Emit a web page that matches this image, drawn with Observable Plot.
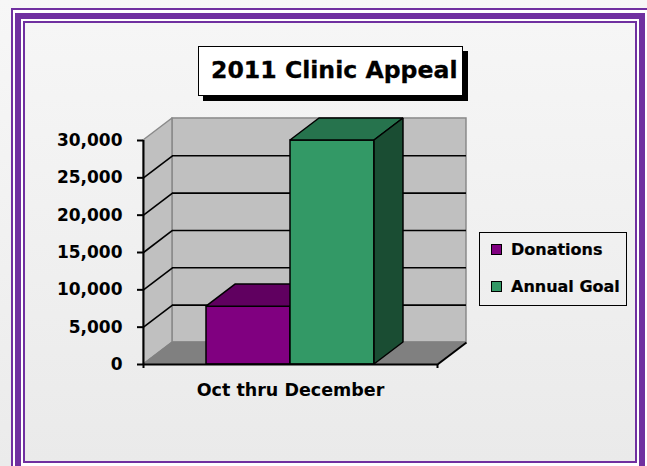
<!DOCTYPE html>
<html>
<head>
<meta charset="utf-8">
<script src="https://cdn.jsdelivr.net/npm/d3@7"></script>
<script src="https://cdn.jsdelivr.net/npm/@observablehq/plot@0.6"></script>
<style>
  html, body { margin: 0; padding: 0; width: 647px; height: 466px; overflow: hidden; }
  body { background: linear-gradient(#f7f7f7, #ebebeb); position: relative; font-family: "DejaVu Sans", sans-serif; }
  .frame { position: absolute; box-sizing: border-box; }
  #f1 { left: 11px; top: 8px; width: 640px; height: 475px; border: 2px solid #7030a0; background: #fff; }
  #f2 { left: 15px; top: 13px; width: 630px; height: 462px; border: 6px solid #7030a0; background: #fff; }
  #f3 { left: 23px; top: 21px; width: 614px; height: 442px; border: 2px solid #7030a0; background: linear-gradient(#f6f6f6, #eaeaea); }
  #chart { position: absolute; left: 0; top: 0; }
  #title { position: absolute; left: 198px; top: 46px; width: 265px; height: 50px; box-sizing: border-box;
    border: 1.5px solid #000; background: #fff; box-shadow: 5px 5px 0 #000;
    font: bold 23.6px "DejaVu Sans", sans-serif; line-height: 46px; padding-left: 12px; white-space: nowrap; color: #000;
    -webkit-text-stroke: 0.3px #000; }
  #legend { position: absolute; left: 479px; top: 232px; width: 148px; height: 74px; box-sizing: border-box;
    border: 1.5px solid #000; font: bold 16px "DejaVu Sans", sans-serif; color: #000; -webkit-text-stroke: 0.2px #000; }
  .item { position: absolute; left: 11px; height: 20px; line-height: 20px; white-space: nowrap; }
  .sw { display: inline-block; width: 9px; height: 9px; border: 1px solid #000; margin-right: 9px; vertical-align: 0px; }
</style>
</head>
<body>
<div class="frame" id="f1"></div>
<div class="frame" id="f2"></div>
<div class="frame" id="f3"></div>
<div id="chart"></div>
<div id="title"></div>
<div id="legend"></div>
<script>
// ---- data ----
const title = "2011 Clinic Appeal";
const categories = ["Oct thru December"];
const series = ["Donations", "Annual Goal"];
const values = [7750, 30000];
const yTicks = [0, 5000, 10000, 15000, 20000, 25000, 30000];
const frontColors = ["#800080", "#339966"];
const topColors = ["#600060", "#26734d"];
const sideColors = ["#400040", "#1a4d33"];

// ---- layout constants (3D depth in data units) ----
const X_MAX = 3.5;      // floor width in band steps
const DX = 0.345;       // depth offset along x (band steps)
const DY = 2950;        // depth offset along y (value units)
const Y_MAX = 30000;
const FONT = "DejaVu Sans, sans-serif";

document.getElementById("title").textContent = title;
const legend = document.getElementById("legend");
series.forEach((s, i) => {
  const it = document.createElement("div");
  it.className = "item";
  it.style.top = (7 + i * 37) + "px";
  const sw = document.createElement("span");
  sw.className = "sw";
  sw.style.background = frontColors[i];
  it.appendChild(sw);
  it.appendChild(document.createTextNode(s));
  legend.appendChild(it);
});

const band = d3.scaleBand().domain(series).range([0, X_MAX]).paddingInner(0).paddingOuter(0.75);
const bars = series.map((s, i) => ({
  s, v: values[i], x1: band(s), x2: band(s) + band.bandwidth(),
  front: frontColors[i], top: topColors[i], side: sideColors[i]
}));
const innerTicks = yTicks.filter(t => t > 0 && t < Y_MAX);

const barMarks = bars.flatMap(b => [
  Plot.rect([b], {x1: "x1", x2: "x2", y1: () => 0, y2: "v", fill: b.front, stroke: "#000", strokeWidth: 1.5}),
  Plot.areaX([{y: b.v, x1: b.x1, x2: b.x2}, {y: b.v + DY, x1: b.x1 + DX, x2: b.x2 + DX}],
    {y: "y", x1: "x1", x2: "x2", fill: b.top, stroke: "#000", strokeWidth: 1.5, strokeLinejoin: "miter"}),
  Plot.areaY([{x: b.x2, y1: 0, y2: b.v}, {x: b.x2 + DX, y1: DY, y2: b.v + DY}],
    {x: "x", y1: "y1", y2: "y2", fill: b.side, stroke: "#000", strokeWidth: 1.5, strokeLinejoin: "miter"})
]);

const chart = Plot.plot({
  width: 647,
  height: 466,
  marginLeft: 143,
  marginRight: 210,
  marginTop: 140,
  marginBottom: 102,
  style: {background: "transparent", overflow: "visible", fontFamily: FONT},
  x: {domain: [0, X_MAX], label: null},
  y: {domain: [0, Y_MAX], label: null},
  marks: [
    // back wall
    Plot.rect([{x1: DX, x2: X_MAX + DX, y1: DY, y2: Y_MAX + DY}],
      {x1: "x1", x2: "x2", y1: "y1", y2: "y2", fill: "#c0c0c0", stroke: "#8a8a8a", strokeWidth: 1.5}),
    // left wall
    Plot.areaY([{x: 0, y1: 0, y2: Y_MAX}, {x: DX, y1: DY, y2: Y_MAX + DY}],
      {x: "x", y1: "y1", y2: "y2", fill: "#c0c0c0", stroke: "#8a8a8a", strokeWidth: 1.5}),
    // floor
    Plot.areaX([{y: 0, x1: 0, x2: X_MAX}, {y: DY, x1: DX, x2: X_MAX + DX}],
      {y: "y", x1: "x1", x2: "x2", fill: "#808080", stroke: "#808080", strokeWidth: 1}),
    // gridlines on left wall and back wall
    Plot.link(innerTicks, {x1: () => 0, y1: d => d, x2: () => DX, y2: d => d + DY, stroke: "#000", strokeWidth: 1.6}),
    Plot.ruleY(innerTicks, {y: d => d + DY, x1: () => DX, x2: () => X_MAX + DX, stroke: "#000", strokeWidth: 1.6}),
    ...barMarks,
    // axis lines
    Plot.ruleY([0], {x1: () => 0, x2: () => X_MAX, stroke: "#000", strokeWidth: 2}),
    Plot.link([X_MAX], {x1: d => d, y1: () => 0, x2: d => d + DX, y2: () => DY, stroke: "#000", strokeWidth: 2}),
    Plot.ruleX([0], {y1: () => 0, y2: () => Y_MAX, stroke: "#000", strokeWidth: 2}),
    Plot.axisY(yTicks, {tickSize: 6, tickPadding: 15, strokeWidth: 2, tickFormat: d3.format(","),
      fontSize: 17, fontWeight: "bold", fill: "#000", label: null}),
    Plot.axisX([0, X_MAX], {tickSize: 4, strokeWidth: 2, tickFormat: () => "", label: null}),
    Plot.text(categories, {x: () => X_MAX / 2, frameAnchor: "bottom", dy: 26, text: d => d,
      fontSize: 17.5, fontWeight: "bold", fill: "#000", lineAnchor: "middle"})
  ]
});
document.getElementById("chart").appendChild(chart);
</script>
</body>
</html>
